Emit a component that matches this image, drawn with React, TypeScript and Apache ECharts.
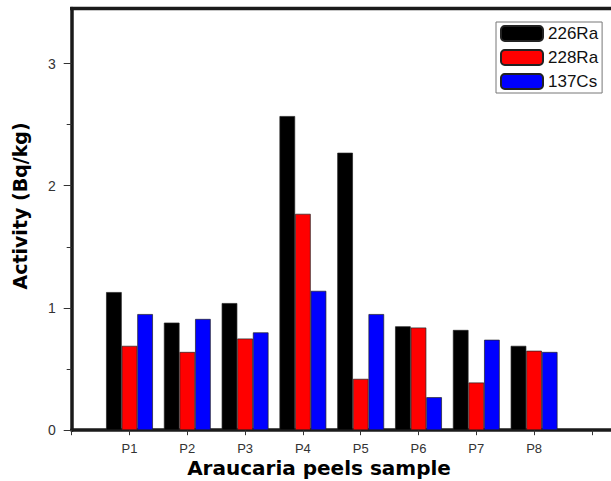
import React, { useEffect, useRef } from "react";
import * as echarts from "echarts";

const categories = ["", "P1", "P2", "P3", "P4", "P5", "P6", "P7", "P8", "", ""];
const ra226 = [null, 1.13, 0.88, 1.04, 2.57, 2.27, 0.85, 0.82, 0.69, null, null];
const ra228 = [null, 0.69, 0.64, 0.75, 1.77, 0.42, 0.84, 0.39, 0.65, null, null];
const cs137 = [null, 0.95, 0.91, 0.80, 1.14, 0.95, 0.27, 0.74, 0.64, null, null];
const seriesNames = ["226Ra", "228Ra", "137Cs"];
const seriesColors = ["#000000", "#ff0000", "#0000ff"];
const majorTicks = [0, 1, 2, 3];
const minorTicks = [0.5, 1.5, 2.5];
const yTitle = "Activity (Bq/kg)";
const xTitle = "Araucaria peels sample";

export default function App() {
  const ref = useRef<HTMLDivElement>(null);
  useEffect(() => {
    if (!ref.current) return;
    const chart = echarts.init(ref.current, null, { renderer: "svg" });
    const values = [ra226, ra228, cs137];
    const axisColor = "#1a1a1a";
    chart.setOption({
      animation: false,
      backgroundColor: "#ffffff",
      grid: { left: 71.7, top: 8.5, height: 421.7, width: 578, outerBoundsMode: "none", containLabel: false },
      legend: {
        orient: "vertical",
        left: 496,
        top: 22,
        padding: [3, 4, 3, 4],
        itemWidth: 42,
        itemHeight: 15,
        itemGap: 7,
        borderColor: "#777",
        borderWidth: 1,
        backgroundColor: "#fff",
        textStyle: { fontSize: 17, color: "#111", fontFamily: "Liberation Sans" },
        data: seriesNames,
      },
      xAxis: [
        {
          type: "category",
          data: categories,
          boundaryGap: false,
          axisLine: { onZero: false, lineStyle: { color: axisColor, width: 3.5 } },
          axisTick: { show: true, length: 5, lineStyle: { color: "#333", width: 1 } },
          axisLabel: {
            interval: 0,
            margin: 12,
            fontSize: 13,
            color: "#333",
            fontFamily: "Liberation Sans",
          },
          splitLine: { show: false },
        },
      ],
      yAxis: [
        {
          type: "value",
          min: 0,
          max: 3.45,
          interval: 1,
          position: "left",
          axisLine: { show: true, onZero: false, lineStyle: { color: axisColor, width: 3.5 } },
          axisTick: { show: true, length: 8, customValues: majorTicks, lineStyle: { color: "#333", width: 1 } },
          axisLabel: {
            showMaxLabel: false,
            margin: 16,
            fontSize: 14,
            color: "#333",
            fontFamily: "Liberation Sans",
          },
          splitLine: { show: false },
        },
        {
          type: "value",
          min: 0,
          max: 3.45,
          position: "left",
          offset: 0,
          axisLine: { show: false, onZero: false },
          axisTick: { show: true, length: 5, customValues: minorTicks, lineStyle: { color: "#333", width: 1 } },
          axisLabel: { show: false },
          splitLine: { show: false },
        },
      ],
      series: seriesNames.map((name, i) => ({
        name,
        type: "bar",
        xAxisIndex: 0,
        yAxisIndex: 0,
        data: values[i],
        barWidth: 15.6,
        barGap: "0%",
        itemStyle: { color: seriesColors[i], borderColor: "#222", borderWidth: 0.7 },
      })),
      graphic: [
        {
          type: "line",
          shape: { x1: 70, y1: 8.5, x2: 611, y2: 8.5 },
          style: { stroke: axisColor, lineWidth: 3.5 },
          z: 10,
        },
        {
          type: "text",
          x: 20,
          y: 206,
          rotation: Math.PI / 2,
          style: {
            text: yTitle,
            fontSize: 19,
            fontWeight: "bold",
            fontFamily: "DejaVu Sans",
            fill: "#000",
            align: "center",
            verticalAlign: "middle",
          },
        },
        {
          type: "text",
          x: 319,
          y: 468,
          style: {
            text: xTitle,
            fontSize: 20,
            fontWeight: "bold",
            fontFamily: "DejaVu Sans",
            fill: "#000",
            align: "center",
            verticalAlign: "middle",
          },
        },
      ],
    });
    return () => chart.dispose();
  }, []);
  return <div ref={ref} style={{ width: 611, height: 481, position: "absolute", left: 0, top: 0 }} />;
}
